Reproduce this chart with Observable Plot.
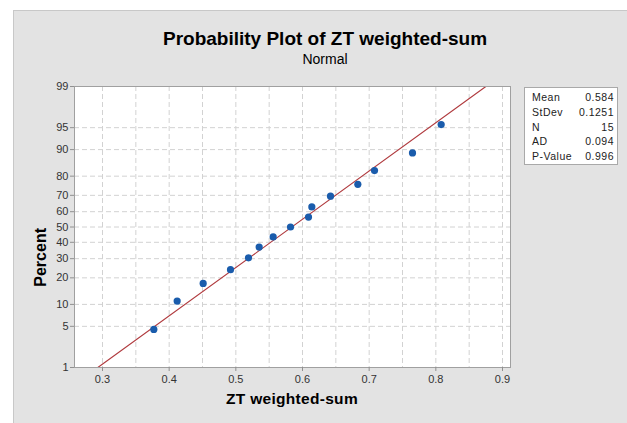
<!DOCTYPE html>
<html><head><meta charset="utf-8">
<script src="https://cdn.jsdelivr.net/npm/d3@7"></script>
<script src="https://cdn.jsdelivr.net/npm/@observablehq/plot@0.6"></script>
<style>
html,body{margin:0;padding:0;background:#fff;font-family:"Liberation Sans",Arial,sans-serif;}
#panel{position:absolute;left:13px;top:10px;width:614px;height:413px;background:#e3e3e3;border-left:1px solid #c8c8c8;border-top:1px solid #c8c8c8;box-sizing:border-box}
#chart{position:absolute;left:0;top:0}
.title{position:absolute;left:0;width:650px;text-align:center;color:#000;white-space:nowrap}
#t1{top:28px;font-size:19px;font-weight:bold}
#t2{top:51px;font-size:14px}
#xlab{position:absolute;left:0;width:584px;top:390px;text-align:center;font-size:15.5px;font-weight:bold;letter-spacing:0.3px}
#stats{position:absolute;left:524px;top:87px;width:94px;height:78px;background:#fff;border:1px solid #a9a9a9;box-sizing:border-box;font-size:10.5px;letter-spacing:0.5px;color:#222}
.row{position:absolute;left:7px;right:3px;height:14px}
.row span.v{position:absolute;right:0}
</style>
</head><body>
<div id="panel"></div>
<div id="chart"></div>
<div class="title" id="t1">Probability Plot of ZT weighted-sum</div>
<div class="title" id="t2">Normal</div>
<div id="xlab">ZT weighted-sum</div>
<div id="stats"></div>
<script>
// ---- data ----
const xValues = [0.377, 0.412, 0.451, 0.492, 0.519, 0.535, 0.556, 0.582, 0.609, 0.614, 0.642, 0.683, 0.708, 0.765, 0.808];
const pctValues = [4.5, 11.0, 17.5, 24.0, 30.5, 37.0, 43.5, 50.0, 56.5, 63.0, 69.5, 76.0, 82.5, 89.0, 95.5];
const fitMean = 0.584;
const fitStDev = 0.1251;
const fitPct = [1, 99];
const pctTicks = [1, 5, 10, 20, 30, 40, 50, 60, 70, 80, 90, 95, 99];
const pctGrid = [5, 10, 20, 30, 40, 50, 60, 70, 80, 90, 95];
const xTicks = [0.3, 0.4, 0.5, 0.6, 0.7, 0.8, 0.9];
const xGrid = [0.3, 0.35, 0.4, 0.45, 0.5, 0.55, 0.6, 0.65, 0.7, 0.75, 0.8, 0.85, 0.9];
const statLabels = ["Mean", "StDev", "N", "AD", "P-Value"];
const statValues = ["0.584", "0.1251", "15", "0.094", "0.996"];

// inverse normal CDF (Acklam)
function probit(p) {
  const a=[-3.969683028665376e+01,2.209460984245205e+02,-2.759285104469687e+02,1.383577518672690e+02,-3.066479806614716e+01,2.506628277459239e+00];
  const b=[-5.447609879822406e+01,1.615858368580409e+02,-1.556989798598866e+02,6.680131188771972e+01,-1.328068155288572e+01];
  const c=[-7.784894002430293e-03,-3.223964580411365e-01,-2.400758277161838e+00,-2.549732539343734e+00,4.374664141464968e+00,2.938163982698783e+00];
  const d=[7.784695709041462e-03,3.224671290700398e-01,2.445134137142996e+00,3.754408661907416e+00];
  const pl=0.02425, ph=1-pl; let q,r;
  if (p<pl){q=Math.sqrt(-2*Math.log(p));return (((((c[0]*q+c[1])*q+c[2])*q+c[3])*q+c[4])*q+c[5])/((((d[0]*q+d[1])*q+d[2])*q+d[3])*q+1);}
  if (p<=ph){q=p-0.5;r=q*q;return (((((a[0]*r+a[1])*r+a[2])*r+a[3])*r+a[4])*r+a[5])*q/(((((b[0]*r+b[1])*r+b[2])*r+b[3])*r+b[4])*r+1);}
  q=Math.sqrt(-2*Math.log(1-p));return -(((((c[0]*q+c[1])*q+c[2])*q+c[3])*q+c[4])*q+c[5])/((((d[0]*q+d[1])*q+d[2])*q+d[3])*q+1);
}
const z = p => probit(p / 100);

const points = xValues.map((x, i) => ({x, p: pctValues[i]}));
const fitLine = fitPct.map(p => ({p, x: fitMean + fitStDev * z(p)}));
const zLabel = new Map(pctTicks.map(p => [z(p), String(p)]));

const chart = Plot.plot({
  width: 627, height: 423,
  marginLeft: 74, marginRight: 117, marginTop: 86, marginBottom: 56,
  style: {background: "transparent", fontFamily: "Liberation Sans, Arial, sans-serif", fontSize: "11px", overflow: "visible"},
  x: {domain: [0.258, 0.912], label: null},
  y: {domain: [z(1), z(99)], label: null},
  marks: [
    Plot.frame({fill: "white", stroke: null}),
    Plot.gridX(xGrid, {stroke: "#d2d2d2", strokeOpacity: 1, strokeDasharray: "5,3"}),
    Plot.gridY(pctGrid.map(z), {stroke: "#d2d2d2", strokeOpacity: 1, strokeDasharray: "5,3"}),
    Plot.line(fitLine, {x: "x", y: d => z(d.p), stroke: "#b03a3e", strokeWidth: 1.1, clip: false}),
    Plot.dot(points, {x: "x", y: d => z(d.p), fill: "#1a5cac", r: 3.6}),
    Plot.frame({stroke: "#a0a0a0"}),
    Plot.axisX(xTicks, {tickSize: 4, tickPadding: 4, stroke: "#909090", color: "#333", fontSize: 11, tickFormat: d => String(d)}),
    Plot.axisY(pctTicks.map(z), {tickSize: 4, tickPadding: 2, stroke: "#909090", color: "#333", fontSize: 11, tickFormat: v => zLabel.get(v)})
  ]
});
document.getElementById("chart").appendChild(chart);

// rotated y label
const yl = document.createElement("div");
yl.textContent = "Percent";
yl.style.cssText = "position:absolute;left:41px;top:228px;font-size:16px;font-weight:bold;white-space:nowrap;transform:translate(-100%,-50%) rotate(-90deg);transform-origin:100% 50%;";
document.body.appendChild(yl);

const stats = document.getElementById("stats");
statLabels.forEach((lab, i) => {
  const r = document.createElement("div");
  r.className = "row";
  r.style.top = (3 + i * 14.8) + "px";
  r.innerHTML = `<span>${lab}</span><span class="v">${statValues[i]}</span>`;
  stats.appendChild(r);
});
</script>
</body></html>
